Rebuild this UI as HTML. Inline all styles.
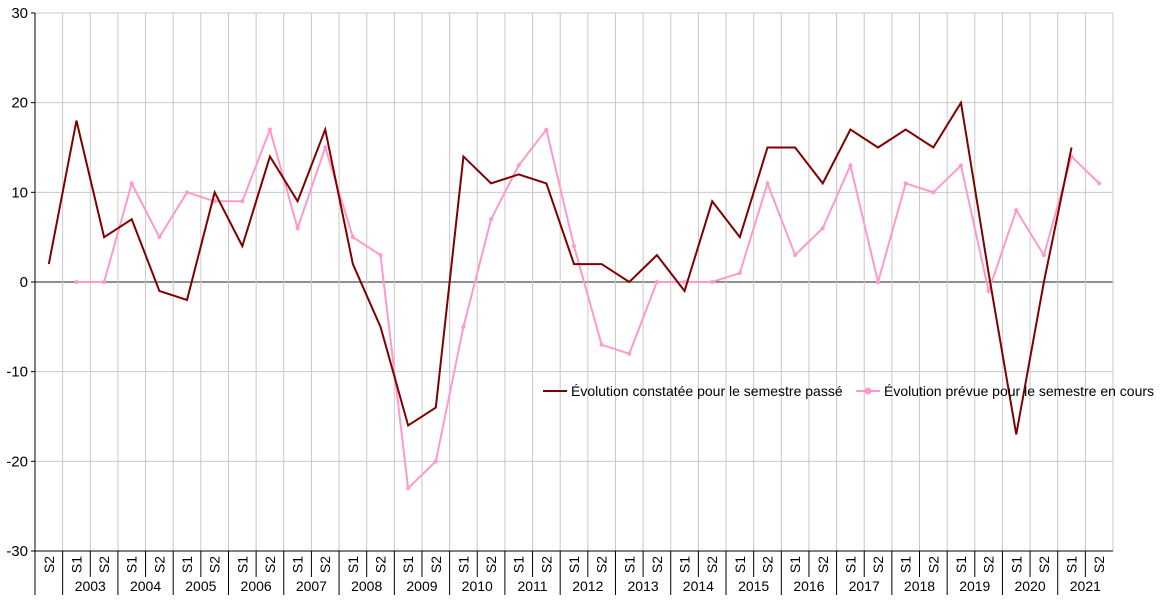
<!DOCTYPE html>
<html><head><meta charset="utf-8"><style>
body{margin:0;background:#fff;font-family:"Liberation Sans",sans-serif}
</style></head><body>
<svg id="chart" width="1162" height="604" xmlns="http://www.w3.org/2000/svg" font-family="Liberation Sans, sans-serif"></svg>
<script>
const years = ["2003","2004","2005","2006","2007","2008","2009","2010","2011","2012","2013","2014","2015","2016","2017","2018","2019","2020","2021"];
const yTicks = [30,20,10,0,-10,-20,-30];
const constatee = [2,18,5,7,-1,-2,10,4,14,9,17,2,-5,-16,-14,14,11,12,11,2,2,0,3,-1,9,5,15,15,11,17,15,17,15,20,1,-17,0,15,null];
const prevue = [null,0,0,11,5,10,9,9,17,6,15,5,3,-23,-20,-5,7,13,17,4,-7,-8,0,0,0,1,11,3,6,13,0,11,10,13,-1,8,3,14,11];
const cats = ["S2"]; years.forEach(()=>{cats.push("S1");cats.push("S2");});

const NS="http://www.w3.org/2000/svg", svg=document.getElementById('chart');
const X0=35,X1=1113,Y0=13,Y1=551;
const bw=(X1-X0)/cats.length;
const xc=i=>X0+bw*(i+0.5);
const y=v=>Y0+(30-v)/60*(Y1-Y0);
function el(t,a,p){const e=document.createElementNS(NS,t);for(const k in a)e.setAttribute(k,a[k]);(p||svg).appendChild(e);return e;}

const grid=el('g',{});


yTicks.forEach(t=>{el('line',{x1:X0,x2:X1,y1:y(t),y2:y(t),stroke:t===0?'#222':'#c8c8c8','stroke-width':1},grid);});
for(let i=1;i<=cats.length;i++){const x=X0+bw*i;el('line',{x1:x,x2:x,y1:Y0,y2:Y1,stroke:'#c8c8c8'},grid);}
const ax=el('line',{x1:X0,x2:X0,y1:Y0,y2:595,stroke:'#000'});


el('line',{x1:X0,x2:X1,y1:Y1,y2:Y1,stroke:'#000'});
yTicks.forEach(t=>{
 el('line',{x1:X0-4,x2:X0,y1:y(t),y2:y(t),stroke:'#000'});
 const tx=el('text',{x:X0-7,y:y(t)+5,'text-anchor':'end','font-size':15,fill:'#000'});
 tx.textContent=t;
 
 
});
cats.forEach((c,i)=>{
 const x=xc(i);
 const t=el('text',{transform:`translate(${x+5},${Y1+5}) rotate(-90)`,'text-anchor':'end','font-size':14,fill:'#000'});
 t.textContent=c;
 
 
 const bx=X0+bw*(i+1);
 if(i<cats.length-1) el('line',{x1:bx,x2:bx,y1:Y1,y2:(c==="S2")?595:577,stroke:'#000'});
});
years.forEach((yr,k)=>{
 const x=X0+bw*(1+2*k+1);
 const t=el('text',{x:x,y:591,'text-anchor':'middle','font-size':14,fill:'#000'});
 t.textContent=yr;
 
 
});
function series(data,color,name,dots){
 let d='';data.forEach((v,i)=>{if(v===null)return;d+=(d?'L':'M')+xc(i)+','+y(v);});
 const p=el('path',{d:d,fill:'none',stroke:color,'stroke-width':2});
 
 
 if(dots) data.forEach((v,i)=>{if(v===null)return;const c=el('circle',{cx:xc(i),cy:y(v),r:2,fill:color});
  
  });
}
series(prevue,'#ff99cc','series-prevue',true);
series(constatee,'#800000','series-constatee',false);
const lg=el('g',{});


el('line',{x1:543,x2:567,y1:391,y2:391,stroke:'#800000','stroke-width':2},lg);
let t1=el('text',{x:571,y:396,'font-size':14,fill:'#000'},lg);t1.textContent='Évolution constatée pour le semestre passé';
el('line',{x1:856,x2:880,y1:391,y2:391,stroke:'#ff99cc','stroke-width':2},lg);
el('circle',{cx:868,cy:391,r:3.5,fill:'#ff99cc'},lg);
let t2=el('text',{x:884,y:396,'font-size':14,fill:'#000'},lg);t2.textContent='Évolution prévue pour le semestre en cours';
</script>
</body></html>
